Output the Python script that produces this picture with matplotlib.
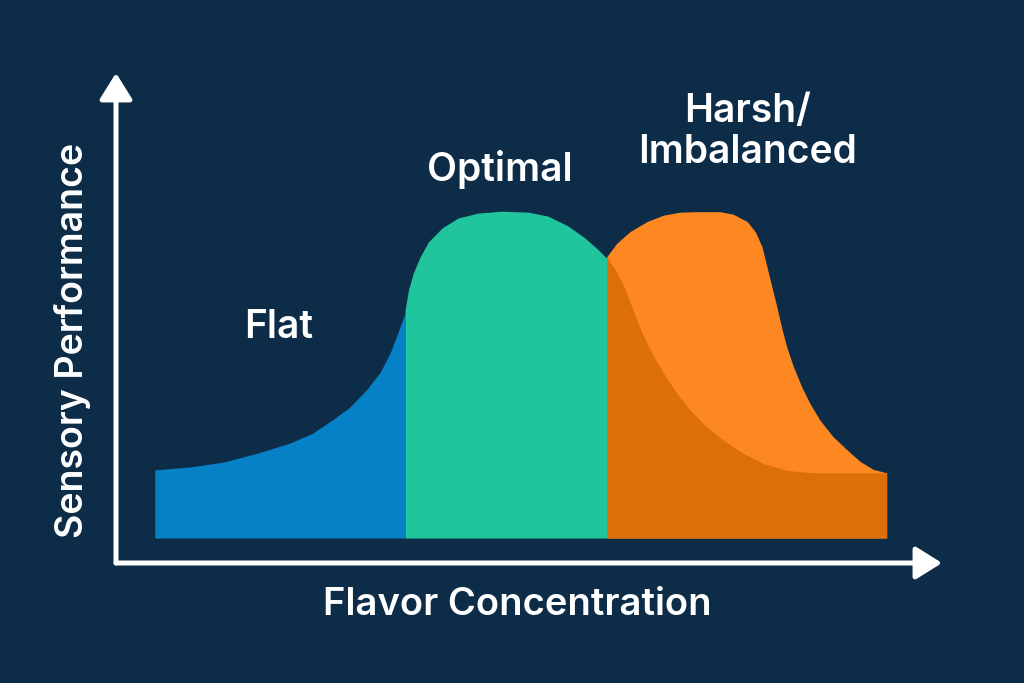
import numpy as np
import matplotlib.pyplot as plt

# ------------------------------------------------------------
# Flavor concentration vs. sensory performance (schematic zones)
# ------------------------------------------------------------

plt.rcParams["font.family"] = ["Inter", "DejaVu Sans"]

# Flat zone (blue): rising tail on the low-concentration side
flat_x = [4.7, 9.0, 13.0, 17.1, 21.1, 23.8, 26.2, 28.3, 30.3, 32.0, 33.2, 34.1, 35.0]
flat_y = [19.0, 19.6, 20.6, 22.4, 24.5, 26.5, 29.2, 31.8, 35.3, 39.0, 42.9, 46.9, 51.0]

# Optimal zone (green): the plateau
optimal_x = [35.0, 35.4, 36.0, 36.8, 37.8, 39.5, 41.4, 43.8, 46.7, 49.9, 52.3,
             54.7, 56.8, 58.4, 59.4]
optimal_y = [51.6, 55.7, 59.2, 62.4, 65.5, 68.4, 70.4, 71.4, 71.8, 71.6, 70.8,
             68.8, 66.3, 63.9, 62.2]

# Harsh / imbalanced zone (orange): second hump falling off
harsh_x = [59.4, 60.6, 62.2, 64.3, 66.3, 68.3, 70.3, 73.1, 74.7, 76.4, 77.4, 78.2,
           78.8, 79.4, 80.0, 80.6, 81.2, 82.0, 83.0, 84.0, 85.2, 86.8, 88.5, 90.1,
           91.7, 93.3]
harsh_y = [62.5, 65.2, 67.6, 69.7, 71.0, 71.6, 71.7, 71.7, 71.2, 69.7, 67.6, 64.6,
           60.5, 56.4, 52.3, 47.9, 44.1, 40.1, 36.0, 32.6, 29.2, 25.8, 23.1, 20.7,
           19.1, 18.4]

# Darker band inside the harsh zone
harsh_low_x = [59.4, 60.6, 61.6, 62.6, 63.6, 64.9, 66.3, 67.9, 69.5, 71.5, 73.5,
               75.9, 78.4, 81.2, 84.4, 93.3]
harsh_low_y = [62.5, 59.4, 56.0, 51.6, 47.2, 42.8, 38.7, 34.6, 31.2, 27.8, 25.1,
               22.4, 20.3, 18.9, 18.4, 18.4]

baseline = 5.1

zone_labels = ["Flat", "Optimal", "Harsh/\nImbalanced"]
label_x = [19.7, 46.5, 76.5]
label_y = [48.0, 80.4, 88.0]

bg = "#0c2c48"
colors = {
    "flat": "#0781c6",
    "optimal": "#20c49d",
    "harsh": "#fd8720",
    "harsh_low": "#dc6f0a",
}

fig = plt.figure(figsize=(10.24, 6.83), dpi=100, facecolor=bg)
ax = fig.add_axes([116 / 1024, 1 - 563 / 683, (942 - 116) / 1024, (563 - 73) / 683])
ax.set_facecolor(bg)
ax.set_xlim(0, 100)
ax.set_ylim(0, 100)

ax.fill_between(flat_x, baseline, flat_y, color=colors["flat"], lw=0)
ax.fill_between(optimal_x, baseline, optimal_y, color=colors["optimal"], lw=0)
ax.fill_between(harsh_x, baseline, harsh_y, color=colors["harsh"], lw=0)
ax.fill_between(harsh_low_x, baseline, harsh_low_y, color=colors["harsh_low"], lw=0)

for txt, x, y in zip(zone_labels, label_x, label_y):
    ax.text(x, y, txt, color="white", fontsize=28, fontweight="semibold",
            ha="center", va="center", linespacing=1.12)

# Axes drawn as white arrows
for s in ax.spines.values():
    s.set_visible(False)
ax.set_xticks([])
ax.set_yticks([])

arrow = dict(arrowstyle="-|>,head_length=0.8,head_width=0.5", color="white",
             lw=3.6, shrinkA=0, shrinkB=0, mutation_scale=20)
ax.annotate("", xy=(1, 0), xytext=(0, 0), xycoords="axes fraction",
            textcoords="axes fraction", arrowprops=arrow)
ax.annotate("", xy=(0, 1), xytext=(0, 0), xycoords="axes fraction",
            textcoords="axes fraction", arrowprops=arrow)

fig.text(517 / 1024, 1 - 605 / 683, "Flavor Concentration", color="white",
         fontsize=27.5, fontweight="semibold", ha="center", va="center")
fig.text(73 / 1024, 1 - 340 / 683, "Sensory Performance", color="white",
         fontsize=27, fontweight="semibold", ha="center", va="center",
         rotation=90)

fig.savefig("out.png", dpi=100, facecolor=bg)
